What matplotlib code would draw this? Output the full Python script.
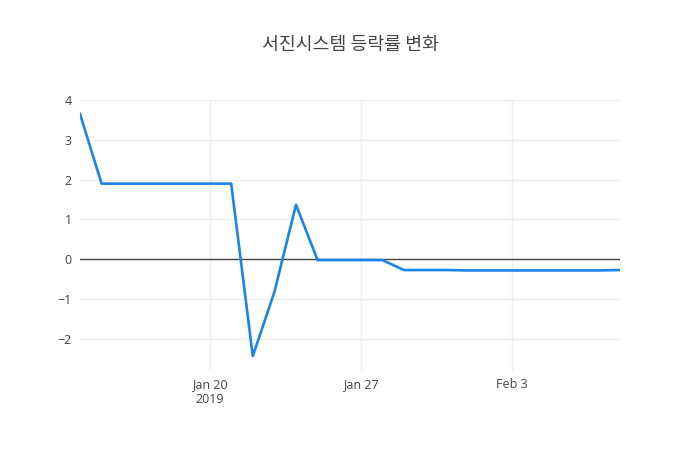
import matplotlib
matplotlib.use("Agg")
import matplotlib.pyplot as plt
import pandas as pd

dates = ["2019-01-14", "2019-01-15", "2019-01-16", "2019-01-17", "2019-01-18",
         "2019-01-21", "2019-01-22", "2019-01-23", "2019-01-24", "2019-01-25",
         "2019-01-28", "2019-01-29", "2019-01-30", "2019-01-31", "2019-02-01",
         "2019-02-07", "2019-02-08"]
change = [3.65, 1.9, 1.9, 1.9, 1.9,
          1.9, -2.43, -0.82, 1.37, -0.02,
          -0.02, -0.27, -0.27, -0.27, -0.28,
          -0.28, -0.27]
title = "서진시스템 등락률 변화"

x = pd.to_datetime(dates)

plt.rcParams["font.family"] = ["Open Sans", "Noto Sans CJK KR", "DejaVu Sans"]

fig = plt.figure(figsize=(7, 4.5), dpi=100)
ax = fig.add_axes([80 / 700, 80 / 450, 540 / 700, 270 / 450])

ax.plot(x, change, color="#1a84e8", linewidth=1.9)
ax.axhline(0, color="#444444", linewidth=1, zorder=1)

ax.set_xlim(pd.Timestamp("2019-01-14"), pd.Timestamp("2019-02-08"))
ax.set_ylim(-2.78, 4.0)
ax.set_yticks([-2, -1, 0, 1, 2, 3, 4])
ax.set_yticklabels(["\u22122", "\u22121", "0", "1", "2", "3", "4"])

ticks = pd.to_datetime(["2019-01-20", "2019-01-27", "2019-02-03"])
ax.set_xticks(ticks)
ax.set_xticklabels(["Jan 20\n2019", "Jan 27", "Feb 3"])

ax.grid(True, color="#eeeeee", linewidth=1)
ax.set_axisbelow(True)
for s in ax.spines.values():
    s.set_visible(False)
ax.tick_params(length=0, colors="#444444", labelsize=9, pad=6)
for lbl in ax.get_xticklabels():
    lbl.set_verticalalignment("top")
    lbl.set_linespacing(1.2)

fig.text(0.5, 1 - 45 / 450, title, ha="center", va="center", fontsize=13.2,
         color="#444444", family=["Noto Sans CJK KR", "DejaVu Sans"])

fig.savefig("out.png", dpi=100)
